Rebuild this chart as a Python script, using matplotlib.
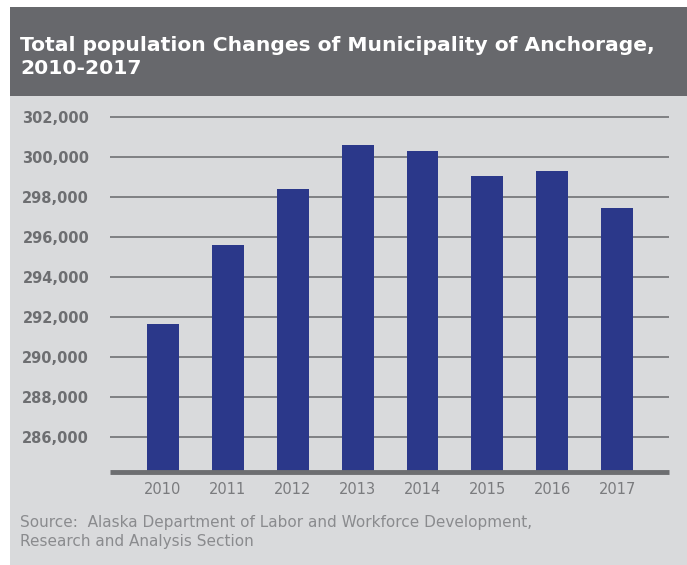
import matplotlib
matplotlib.use("Agg")
import matplotlib.pyplot as plt
from matplotlib.patches import Rectangle

years = ["2010", "2011", "2012", "2013", "2014", "2015", "2016", "2017"]
population = [291650, 295615, 298385, 300585, 300285, 299035, 299285, 297435]
ytick_values = [286000, 288000, 290000, 292000, 294000, 296000, 298000, 300000, 302000]
ytick_labels = ["286,000", "288,000", "290,000", "292,000", "294,000", "296,000", "298,000", "300,000", "302,000"]

title = "Total population Changes of Municipality of Anchorage,\n2010-2017"
source = "Source:  Alaska Department of Labor and Workforce Development,\nResearch and Analysis Section"

W, H = 687, 565
fig = plt.figure(figsize=(W / 100, H / 100), dpi=100)
fig.patch.set_facecolor("white")

def fx(px):
    return px / W

def fy(py):
    return 1 - py / H

# background panels
fig.patches.append(Rectangle((fx(10), 0), fx(W - 10), fy(7), transform=fig.transFigure,
                             facecolor="#d9dadc", edgecolor="none", zorder=-10))
fig.patches.append(Rectangle((fx(10), fy(96)), fx(W - 10), fy(7) - fy(96), transform=fig.transFigure,
                             facecolor="#67686c", edgecolor="none", zorder=-9))

fig.text(fx(20), fy(36), title, color="white", fontsize=14.6, fontweight="bold",
         family="DejaVu Sans", va="top", ha="left", linespacing=1.3)

ax = fig.add_axes([fx(110), fy(472), fx(669 - 110), fy(113) - fy(472)])
ax.set_facecolor("none")
x = list(range(len(years)))
ax.bar(x, population, width=0.49, color="#2b388a", zorder=3)
ax.set_xlim(-0.817, 7.80)
ax.set_ylim(284250, 302200)
ax.set_yticks(ytick_values)
ax.set_yticklabels(ytick_labels)
ax.set_xticks(x)
ax.set_xticklabels(years)
ax.grid(axis="y", color="#7f8083", linewidth=1.4, zorder=1)
ax.tick_params(axis="y", length=0, pad=15, labelsize=10.5, labelcolor="#6d6e71")
ax.tick_params(axis="x", length=0, pad=7, labelsize=10.5, labelcolor="#7a7b7e")
for lab in ax.get_yticklabels():
    lab.set_fontweight("bold")
for s in ["top", "right", "left"]:
    ax.spines[s].set_visible(False)
ax.spines["bottom"].set_color("#6d6e71")
ax.spines["bottom"].set_linewidth(3.5)
ax.spines["bottom"].set_capstyle("butt")
ax.spines["bottom"].set_zorder(4)

fig.text(fx(20), fy(515), source, color="#8a8b8e", fontsize=11, va="top", ha="left",
         family="DejaVu Sans", linespacing=1.3)

fig.savefig("out.png", dpi=100, facecolor=fig.get_facecolor())
